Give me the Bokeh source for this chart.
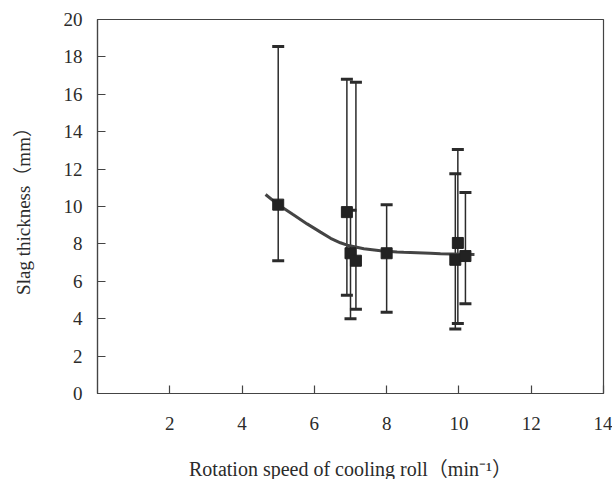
from bokeh.plotting import figure
from bokeh.models import ColumnDataSource, Whisker, TeeHead, FixedTicker, Range1d, Title
from bokeh.embed import file_html
from bokeh.resources import INLINE

# data
speed = [5.0, 6.9, 7.0, 7.15, 8.0, 9.9, 9.97, 10.18]
thickness = [10.1, 9.7, 7.5, 7.1, 7.5, 7.15, 8.05, 7.35]
upper = [18.55, 16.8, 9.8, 16.65, 10.1, 11.75, 13.05, 10.75]
lower = [7.1, 5.25, 4.0, 4.5, 4.35, 3.45, 3.75, 4.8]

trend_x = [4.65, 4.97, 5.4, 5.8, 6.17, 6.45, 6.72, 6.91, 7.37, 7.83, 8.29, 8.47, 9.21, 9.49, 10.43]
trend_y = [10.64, 10.14, 9.58, 9.07, 8.63, 8.30, 8.06, 7.93, 7.74, 7.63, 7.57, 7.55, 7.50, 7.47, 7.43]

x_ticks = [2, 4, 6, 8, 10, 12, 14]
y_ticks = [0, 2, 4, 6, 8, 10, 12, 14, 16, 18, 20]

x_title = "Rotation speed of cooling roll\uff08min\u207b\u00b9\uff09"
y_title = "Slag thickness\uff08mm\uff09"

FONT = "Liberation Serif, Noto Sans CJK JP"
DARK = "#2b2b2b"

p = figure(width=612, height=479, output_backend="svg", toolbar_location=None,
           x_range=Range1d(0, 14), y_range=Range1d(0, 20),
           min_border_left=97, min_border_right=9, min_border_top=19, min_border_bottom=86)

p.background_fill_color = "white"
p.border_fill_color = "white"
p.outline_line_color = "#444444"
p.outline_line_width = 1.2
p.grid.visible = False

for ax in (p.xaxis[0], p.yaxis[0]):
    ax.axis_line_color = "#444444"
    ax.axis_line_width = 1.2
    ax.major_tick_in = 8
    ax.major_tick_out = 0
    ax.major_tick_line_color = "#444444"
    ax.major_tick_line_width = 1.2
    ax.minor_tick_line_color = None
    ax.major_label_text_font = FONT
    ax.major_label_text_font_size = "19px"
    ax.major_label_text_color = DARK
    ax.axis_label_text_font = FONT
    ax.axis_label_text_font_size = "19px"
    ax.axis_label_text_font_style = "normal"
    ax.axis_label_text_color = DARK

p.xaxis.ticker = FixedTicker(ticks=x_ticks)
p.yaxis.ticker = FixedTicker(ticks=y_ticks)
p.xaxis.major_label_standoff = 23
p.yaxis.major_label_standoff = 15
p.yaxis.axis_label = y_title
p.yaxis.axis_label_standoff = 27
# invisible spacer label to push the title below down
p.xaxis.axis_label = "\u00a0"
p.xaxis.axis_label_text_font_size = "10px"
p.xaxis.axis_label_standoff = 9

# x-axis title below the axis, shifted left of centre as in the reference
xt = Title(text=x_title, align="center", offset=-34, standoff=0,
           text_font=FONT, text_font_size="20px", text_font_style="normal",
           text_color=DARK)
p.add_layout(xt, "below")

src = ColumnDataSource(dict(x=speed, y=thickness, upper=upper, lower=lower))

p.line(trend_x, trend_y, line_color="#444444", line_width=3)

wh = Whisker(source=src, base="x", upper="upper", lower="lower", dimension="height",
             line_color=DARK, line_width=1.5,
             upper_head=TeeHead(size=12, line_color=DARK, line_width=3),
             lower_head=TeeHead(size=12, line_color=DARK, line_width=3))
p.add_layout(wh)

p.scatter("x", "y", source=src, marker="square", size=11, fill_color="#222222",
          line_color="#222222")

open("out.html", "w").write(file_html(p, INLINE))
